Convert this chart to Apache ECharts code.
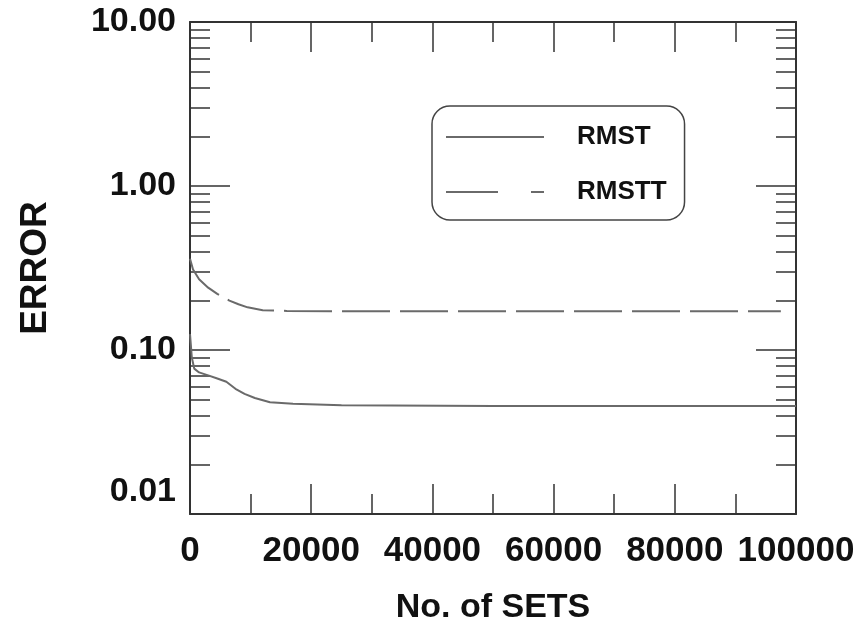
<!DOCTYPE html>
<html>
<head>
<meta charset="utf-8">
<script src="https://cdn.jsdelivr.net/npm/echarts@6/dist/echarts.min.js"></script>
<style>html,body{margin:0;padding:0;background:#fff}#c{width:858px;height:633px}</style>
</head>
<body>
<div id="c"></div>
<script>
// Data
const xTickLabels = ['0', '20000', '40000', '60000', '80000', '100000'];
const yTickLabels = ['0.01', '0.10', '1.00', '10.00'];
const seriesNames = ['RMST', 'RMSTT'];
const rmstX = [0, 300, 700, 1500, 3000, 4500, 6000, 7500, 9000, 10700, 13200, 17000, 25000, 50000, 75000, 100000];
const rmstY = [0.125, 0.09, 0.077, 0.073, 0.070, 0.067, 0.064, 0.058, 0.054, 0.051, 0.048, 0.047, 0.046, 0.0455, 0.0455, 0.0455];
const rmsttX = [0, 500, 1500, 3000, 4500, 6500, 8000, 9500, 12000, 16000, 30000, 60000, 97500];
const rmsttY = [0.36, 0.31, 0.27, 0.24, 0.22, 0.20, 0.19, 0.182, 0.175, 0.173, 0.172, 0.172, 0.172];

const FONT = '"Liberation Sans", Arial, sans-serif';
const lineColor = '#6a6a6a';
const axisColor = '#333';

const chart = echarts.init(document.getElementById('c'));
const xCommon = {
  type: 'value', min: 0, max: 100000, interval: 20000,
  axisLine: { show: true, onZero: false, lineStyle: { color: axisColor, width: 2 } },
  axisTick: { show: true, inside: true, length: 30, lineStyle: { color: axisColor, width: 1.5 } },
  minorTick: { show: true, splitNumber: 2, length: 20, lineStyle: { color: axisColor, width: 1.5 } },
  splitLine: { show: false }, minorSplitLine: { show: false }
};
const yCommon = {
  type: 'log', logBase: 10, min: 0.01, max: 10,
  axisLine: { show: true, onZero: false, lineStyle: { color: axisColor, width: 2 } },
  axisTick: { show: true, inside: true, length: 40, lineStyle: { color: axisColor, width: 1.5 } },
  minorTick: { show: true, splitNumber: 9, length: 20, lineStyle: { color: axisColor, width: 1.5 } },
  splitLine: { show: false }, minorSplitLine: { show: false }
};

chart.setOption({
  animation: false,
  backgroundColor: '#fff',
  grid: { left: 190, right: 62, top: 22, bottom: 119, containLabel: false },
  legend: {
    orient: 'vertical', left: 432, top: 106,
    padding: [18, 18, 15, 13],
    itemWidth: 98, itemHeight: 14, itemGap: 29,
    borderColor: '#444', borderWidth: 1.5, borderRadius: 18,
    backgroundColor: '#fff',
    itemStyle: { color: 'rgba(0,0,0,0)', borderWidth: 0, opacity: 0 },
    textStyle: { fontFamily: FONT, fontSize: 26, fontWeight: 'bold', color: '#111', lineHeight: 26, padding: [0, 0, 0, 28] },
    data: [
      { name: seriesNames[0] },
      { name: seriesNames[1], lineStyle: { type: [52, 33] } }
    ]
  },
  xAxis: [
    Object.assign({}, xCommon, {
      position: 'bottom',
      name: 'No. of SETS', nameLocation: 'middle', nameGap: 77,
      nameTextStyle: { fontFamily: FONT, fontSize: 34, fontWeight: 'bold', color: '#111', verticalAlign: 'top' },
      axisLabel: {
        margin: 20, fontFamily: FONT, fontSize: 35, fontWeight: 'bold', color: '#111',
        formatter: (v) => xTickLabels[Math.round(v / 20000)]
      }
    }),
    Object.assign({}, xCommon, { position: 'top', axisLabel: { show: false } })
  ],
  yAxis: [
    Object.assign({}, yCommon, {
      position: 'left',
      name: 'ERROR', nameLocation: 'middle', nameGap: 136,
      nameTextStyle: { fontFamily: FONT, fontSize: 37, fontWeight: 'bold', color: '#111' },
      axisLabel: {
        margin: 14, fontFamily: FONT, fontSize: 34, fontWeight: 'bold', color: '#111',
        formatter: (v) => {
          const i = Math.round(Math.log10(v) + 2);
          const t = yTickLabels[i];
          return i === 0 ? '{low|' + t + '}' : t;
        },
        rich: { low: { fontFamily: FONT, fontSize: 34, fontWeight: 'bold', color: '#111', padding: [0, 0, 44, 0] } }
      }
    }),
    Object.assign({}, yCommon, { position: 'right', axisLabel: { show: false } })
  ],
  series: [
    {
      name: seriesNames[0], type: 'line', symbol: 'none', xAxisIndex: 0, yAxisIndex: 0,
      lineStyle: { color: lineColor, width: 2, type: 'solid' },
      itemStyle: { color: lineColor },
      data: rmstX.map((x, i) => [x, rmstY[i]])
    },
    {
      name: seriesNames[1], type: 'line', symbol: 'none', xAxisIndex: 0, yAxisIndex: 0,
      lineStyle: { color: lineColor, width: 2, type: [48, 10] },
      itemStyle: { color: lineColor },
      data: rmsttX.map((x, i) => [x, rmsttY[i]])
    }
  ]
});
</script>
</body>
</html>
